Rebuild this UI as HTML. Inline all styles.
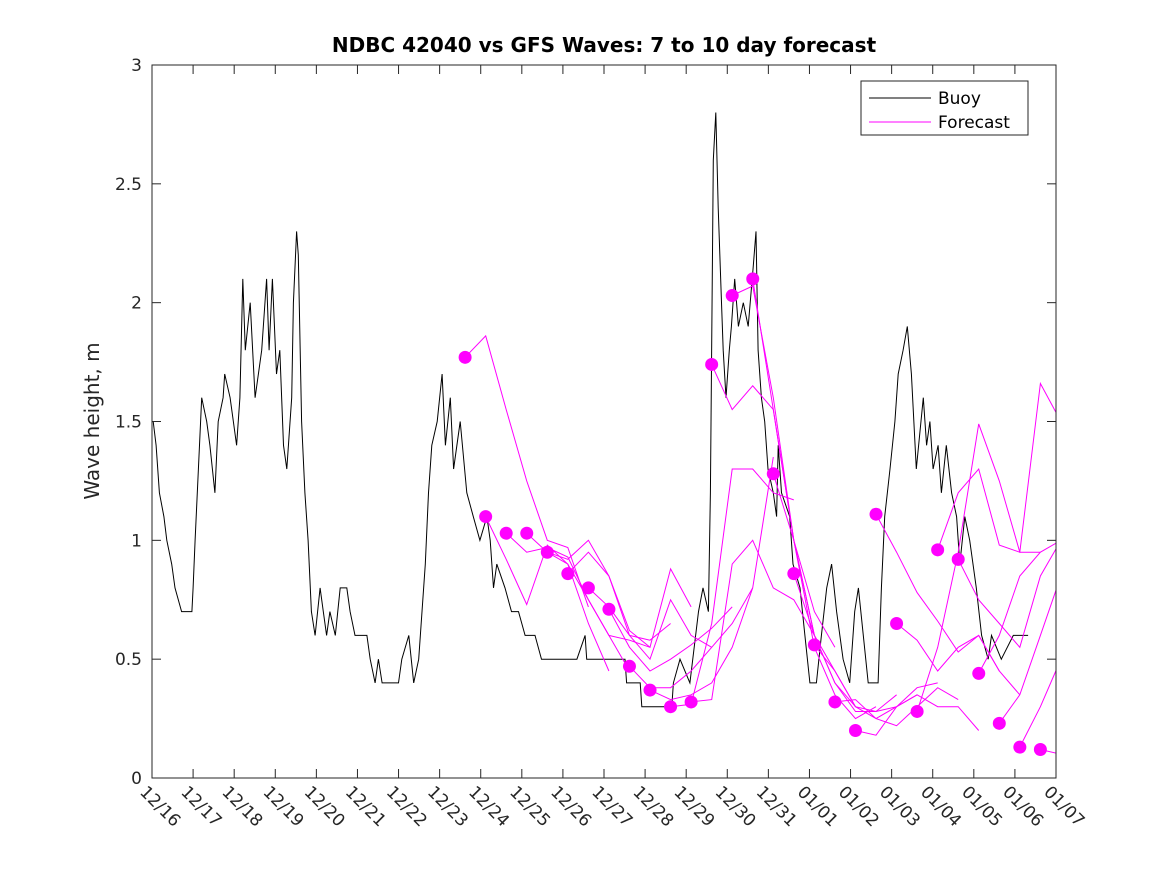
<!DOCTYPE html>
<html><head><meta charset="utf-8"><style>
body{margin:0;background:#fff;}
svg{display:block;font-family:"DejaVu Sans","Liberation Sans",sans-serif;}
</style></head><body>
<svg id="chart" width="1167" height="875" viewBox="0 0 1167 875" xmlns="http://www.w3.org/2000/svg">
<rect width="1167" height="875" fill="#fff"/>
<text x="604" y="52" text-anchor="middle" font-size="20" font-weight="bold" fill="#000">NDBC 42040 vs GFS Waves: 7 to 10 day forecast</text>
<text transform="translate(99,421) rotate(-90)" text-anchor="middle" font-size="20" fill="#262626">Wave height, m</text>
<g id="plot"></g>
<g id="axes"></g>
<g>
<rect x="861" y="81" width="167" height="54" fill="#fff" stroke="#262626" stroke-width="1"/>
<line x1="869" y1="98" x2="931" y2="98" stroke="#000" stroke-width="1"/>
<text x="938" y="104" font-size="17" fill="#000">Buoy</text>
<line x1="869" y1="122" x2="931" y2="122" stroke="#f0f" stroke-width="1"/>
<text x="938" y="128" font-size="17" fill="#000">Forecast</text>
</g>
</svg>
<script>
const xTickLabels=["12/16","12/17","12/18","12/19","12/20","12/21","12/22","12/23","12/24","12/25","12/26","12/27","12/28","12/29","12/30","12/31","01/01","01/02","01/03","01/04","01/05","01/06","01/07"];
const yTicks=[0,0.5,1,1.5,2,2.5,3];
const yTickLabels=["0","0.5","1","1.5","2","2.5","3"];
const buoyDays=[0.03,0.1,0.18,0.29,0.36,0.48,0.56,0.72,0.97,1.0,1.05,1.13,1.21,1.33,1.41,1.53,1.61,1.73,1.77,1.9,2.06,2.14,2.21,2.27,2.39,2.51,2.67,2.79,2.85,2.93,3.03,3.11,3.2,3.28,3.4,3.44,3.52,3.56,3.64,3.72,3.8,3.88,3.97,4.09,4.17,4.25,4.33,4.46,4.58,4.74,4.82,4.94,5.23,5.31,5.43,5.51,5.6,6.0,6.08,6.25,6.37,6.49,6.57,6.65,6.73,6.81,6.94,7.06,7.14,7.26,7.34,7.5,7.66,7.82,7.98,8.15,8.23,8.31,8.39,8.59,8.75,8.92,9.08,9.32,9.48,9.81,10.34,10.54,10.58,11.51,11.55,11.88,11.92,12.65,12.69,12.85,13.09,13.3,13.41,13.54,13.59,13.66,13.72,13.78,13.86,13.9,13.97,14.05,14.1,14.18,14.27,14.39,14.51,14.63,14.7,14.75,14.83,14.91,14.99,15.12,15.2,15.24,15.32,15.52,15.6,15.77,15.89,16.01,16.17,16.29,16.42,16.54,16.66,16.82,16.98,17.1,17.19,17.31,17.43,17.67,17.75,17.83,17.96,18.08,18.16,18.28,18.38,18.48,18.6,18.77,18.85,18.93,19.01,19.13,19.21,19.33,19.46,19.58,19.66,19.78,19.9,20.06,20.19,20.35,20.43,20.67,20.96,21.32];
const buoyValues=[1.5,1.4,1.2,1.1,1.0,0.9,0.8,0.7,0.7,0.8,1.0,1.3,1.6,1.5,1.4,1.2,1.5,1.6,1.7,1.6,1.4,1.6,2.1,1.8,2.0,1.6,1.8,2.1,1.8,2.1,1.7,1.8,1.4,1.3,1.6,2.0,2.3,2.2,1.5,1.2,1.0,0.7,0.6,0.8,0.7,0.6,0.7,0.6,0.8,0.8,0.7,0.6,0.6,0.5,0.4,0.5,0.4,0.4,0.5,0.6,0.4,0.5,0.7,0.9,1.2,1.4,1.5,1.7,1.4,1.6,1.3,1.5,1.2,1.1,1.0,1.1,1.0,0.8,0.9,0.8,0.7,0.7,0.6,0.6,0.5,0.5,0.5,0.6,0.5,0.5,0.4,0.4,0.3,0.3,0.4,0.5,0.4,0.7,0.8,0.7,1.2,2.6,2.8,2.4,2.0,1.8,1.6,1.8,1.9,2.1,1.9,2.0,1.9,2.15,2.3,1.8,1.6,1.5,1.3,1.2,1.1,1.4,1.2,1.1,0.9,0.8,0.6,0.4,0.4,0.6,0.8,0.9,0.7,0.5,0.4,0.7,0.8,0.6,0.4,0.4,0.8,1.1,1.3,1.5,1.7,1.8,1.9,1.7,1.3,1.6,1.4,1.5,1.3,1.4,1.2,1.4,1.2,1.1,0.9,1.1,1.0,0.8,0.6,0.5,0.6,0.5,0.6,0.6];
const forecastStartDays=[7.62,8.12,8.62,9.12,9.62,10.12,10.62,11.12,11.62,12.12,12.62,13.12,13.62,14.12,14.62,15.12,15.62,16.12,16.62,17.12,17.62,18.12,18.62,19.12,19.62,20.12,20.62,21.12,21.62];
const forecastDotValues=[1.77,1.10,1.03,1.03,0.95,0.86,0.80,0.71,0.47,0.37,0.30,0.32,1.74,2.03,2.10,1.28,0.86,0.56,0.32,0.20,1.11,0.65,0.28,0.96,0.92,0.44,0.23,0.13,0.12];
const forecastStep=0.5;
const forecastSeries=[
[1.77,1.86,1.55,1.25,1.0,0.97,0.72],
[1.10,0.92,0.73,0.98,0.9,0.65,0.45],
[1.03,0.95,0.97,0.93,0.75,0.60,0.45],
[1.03,0.95,0.9,0.75,0.6,0.58,0.55],
[0.95,0.92,1.0,0.85,0.6,0.58,0.65],
[0.86,0.95,0.85,0.62,0.55,0.88,0.72],
[0.80,0.72,0.6,0.5,0.75,0.6,0.55],
[0.71,0.55,0.45,0.5,0.56,0.63,0.72],
[0.47,0.38,0.38,0.45,0.55,0.65,0.80],
[0.37,0.33,0.35,0.4,0.55,0.8,1.35],
[0.30,0.31,0.65,1.3,1.3,1.2,1.17],
[0.32,0.33,0.9,1.0,0.8,0.75,0.6],
[1.74,1.55,1.65,1.55,1.0,0.7,0.55],
[2.03,2.07,1.6,1.0,0.6,0.45,0.3],
[2.10,1.55,1.0,0.55,0.35,0.25,0.3],
[1.28,1.0,0.6,0.4,0.3,0.28,0.35],
[0.86,0.6,0.4,0.28,0.28,0.3,0.35],
[0.56,0.45,0.3,0.25,0.3,0.38,0.4],
[0.32,0.33,0.25,0.22,0.3,0.38,0.33],
[0.20,0.18,0.3,0.35,0.3,0.3,0.2],
[1.11,0.95,0.78,0.66,0.53,0.6,0.45],
[0.65,0.58,0.45,0.55,0.6,0.45,0.35],
[0.28,0.55,0.95,1.49,1.25,0.95,0.95],
[0.96,1.2,1.3,0.98,0.95,1.66,1.5],
[0.92,0.75,0.65,0.55,0.85,1.0,1.05],
[0.44,0.6,0.85,0.95,1.0,1.1,0.9],
[0.23,0.35,0.6,0.85,0.8,1.12],
[0.13,0.3,0.5,0.55],
[0.12,0.1,0.1]
];
const X0=152,X1=1056,Y0=778,Y1=65,DMAX=22,VMAX=3;
const xs=d=>X0+(X1-X0)*d/DMAX;
const ys=v=>Y0-(Y0-Y1)*v/VMAX;
const NS="http://www.w3.org/2000/svg";
const plot=document.getElementById('plot'),axes=document.getElementById('axes');
function mk(t,a,p){const e=document.createElementNS(NS,t);for(const k in a)e.setAttribute(k,a[k]);p.appendChild(e);return e;}
const defs=mk('defs',{},plot);
const cp=mk('clipPath',{id:'clip'},defs);mk('rect',{x:X0,y:Y1,width:X1-X0,height:Y0-Y1},cp);
const g=mk('g',{'clip-path':'url(#clip)'},plot);
// buoy
let bp='';
for(let i=0;i<buoyDays.length;i++){bp+=(i?'L':'M')+xs(buoyDays[i]).toFixed(1)+' '+ys(buoyValues[i]).toFixed(1);}
const buoy=mk('path',{d:bp,fill:'none',stroke:'#000','stroke-width':1},g);


// forecasts
forecastSeries.forEach((s,j)=>{
 let p='';
 s.forEach((v,i)=>{p+=(i?'L':'M')+xs(forecastStartDays[j]+i*forecastStep).toFixed(1)+' '+ys(v).toFixed(1);});
 const e=mk('path',{d:p,fill:'none',stroke:'#f0f','stroke-width':1},g);
 
 
});
forecastDotValues.forEach((v,j)=>{
 const c=mk('circle',{cx:xs(forecastStartDays[j]),cy:ys(v),r:6.5,fill:'#f0f'},g);
 
 
});
// frame
mk('rect',{x:X0,y:Y1,width:X1-X0,height:Y0-Y1,fill:'none',stroke:'#262626','stroke-width':1},axes);
xTickLabels.forEach((l,i)=>{
 const x=xs(i);
 mk('line',{x1:x,y1:Y0,x2:x,y2:Y0-9,stroke:'#262626'},axes);
 mk('line',{x1:x,y1:Y1,x2:x,y2:Y1+9,stroke:'#262626'},axes);
 const t=mk('text',{transform:`translate(${x-13},${793}) rotate(45)`,'font-size':17,fill:'#262626'},axes);
 t.textContent=l;
 
 
});
yTicks.forEach((v,i)=>{
 const y=ys(v);
 mk('line',{x1:X0,y1:y,x2:X0+9,y2:y,stroke:'#262626'},axes);
 mk('line',{x1:X1,y1:y,x2:X1-9,y2:y,stroke:'#262626'},axes);
 const t=mk('text',{x:X0-10,y:y+6,'text-anchor':'end','font-size':17,fill:'#262626'},axes);
 t.textContent=yTickLabels[i];
 
 
});
</script>
</body></html>
